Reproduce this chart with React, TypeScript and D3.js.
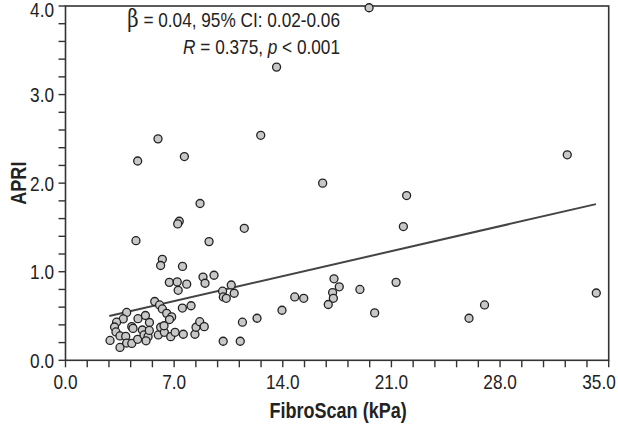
import React from "react";
import * as d3 from "d3";

const fibroscan = [
  19.56, 13.6, 12.58, 5.96, 4.65, 7.66, 32.33, 16.57, 21.98, 8.67,
  21.77, 7.33, 7.23, 11.52, 4.54, 9.25, 6.24, 6.13, 7.54, 6.69,
  7.2, 7.81, 7.26, 8.86, 8.99, 9.57, 10.68, 10.12, 10.17, 10.36,
  10.87, 5.75, 6.06, 6.24, 6.52, 6.84, 6.7, 7.53, 8.09, 3.94,
  3.72, 3.29, 3.16, 3.25, 3.51, 2.87, 3.51, 3.88, 3.94, 4.27,
  4.27, 4.35, 4.67, 5.15, 4.95, 4.65, 5.06, 5.32, 5.41, 5.4,
  5.98, 6.13, 6.37, 6.78, 7.06, 7.59, 8.34, 8.41, 8.65, 8.94,
  10.16, 11.26, 11.4, 12.34, 13.95, 14.77, 15.35, 17.3, 17.64, 17.21,
  17.26, 16.93, 18.97, 19.92, 21.3, 26.0, 27.0, 34.2, 5.19, 6.35,
];
const apri = [
  3.98, 3.31, 2.54, 2.5, 2.25, 2.3, 2.32, 2.0, 1.86, 1.77,
  1.51, 1.57, 1.54, 1.49, 1.35, 1.34, 1.14, 1.07, 1.06, 0.88,
  0.885, 0.86, 0.79, 0.94, 0.87, 0.96, 0.85, 0.78, 0.715, 0.7,
  0.757, 0.664, 0.625, 0.58, 0.53, 0.49, 0.46, 0.59, 0.616, 0.54,
  0.467, 0.43, 0.376, 0.32, 0.275, 0.224, 0.145, 0.27, 0.195, 0.19,
  0.38, 0.36, 0.47, 0.506, 0.342, 0.237, 0.286, 0.267, 0.427, 0.337,
  0.286, 0.373, 0.316, 0.267, 0.316, 0.294, 0.294, 0.373, 0.436, 0.38,
  0.215, 0.215, 0.43, 0.475, 0.565, 0.715, 0.7, 0.92, 0.83, 0.765,
  0.7, 0.63, 0.8, 0.535, 0.88, 0.475, 0.625, 0.76, 0.22, 0.39,
];

const xTickLabels = ["0.0", "7.0", "14.0", "21.0", "28.0", "35.0"];
const yTickLabels = ["0.0", "1.0", "2.0", "3.0", "4.0"];
const fitRange = [2.82, 34.18];
const fitIntercept = 0.386;
const fitSlope = 0.0403;

const W = 618;
const H = 424;
const left = 65.5;
const right = 608.7;
const top = 6;
const bottom = 360.3;

const font = "'Liberation Sans', Arial, sans-serif";
const axisColor = "#333";
const SX = 0.82;

function T({
  x,
  y,
  anchor = "start",
  size = 20,
  weight = "normal",
  rotate = 0,
  sx = SX,
  children,
}: {
  x: number;
  y: number;
  anchor?: string;
  size?: number;
  weight?: string;
  rotate?: number;
  sx?: number;
  children: React.ReactNode;
}) {
  return (
    <g transform={`translate(${x},${y}) rotate(${rotate}) scale(${sx},1)`}>
      <text
        x={0}
        y={0}
        textAnchor={anchor as any}
        fontFamily={font}
        fontSize={size}
        fontWeight={weight}
        fill="#222"
      >
        {children}
      </text>
    </g>
  );
}

export default function App() {
  const x = d3.scaleLinear().domain([0, 35]).range([left, right]);
  const y = d3.scaleLinear().domain([0, 4]).range([bottom, top]);

  const xMinor = d3.range(0, 35.0001, 1.4);
  const yMinor = d3.range(0, 4.0001, 0.2);

  const line = d3
    .line<number>()
    .x((d) => x(d))
    .y((d) => y(fitIntercept + fitSlope * d));

  return (
    <svg
      width={W}
      height={H}
      style={{ position: "absolute", left: 0, top: 0, background: "#fff" }}
    >
      <rect
        x={left}
        y={top}
        width={right - left}
        height={bottom - top}
        fill="none"
        stroke={axisColor}
        strokeWidth={1.6}
      />
      {xMinor.map((v, i) => (
        <line
          key={"xt" + i}
          x1={x(v)}
          x2={x(v)}
          y1={bottom}
          y2={bottom + 7}
          stroke={axisColor}
          strokeWidth={1.4}
        />
      ))}
      {yMinor.map((v, i) => (
        <line
          key={"yt" + i}
          x1={left - 7}
          x2={left}
          y1={y(v)}
          y2={y(v)}
          stroke={axisColor}
          strokeWidth={1.4}
        />
      ))}
      {xTickLabels.map((t) => (
        <T
          key={"xl" + t}
          x={Math.min(x(+t), W - 19)}
          y={389}
          anchor="middle"
          size={21}
        >
          {t}
        </T>
      ))}
      {yTickLabels.map((t) => (
        <T
          key={"yl" + t}
          x={54}
          y={Math.max(y(+t) + 7.5, 17)}
          anchor="end"
          size={21}
        >
          {t}
        </T>
      ))}
      <T x={(left + right) / 2 + 1} y={418} anchor="middle" size={22} weight="bold">
        FibroScan (kPa)
      </T>
      <T x={26} y={(top + bottom) / 2} anchor="middle" size={22} weight="bold" rotate={-90}>
        APRI
      </T>
      <path
        d={line(fitRange) || ""}
        fill="none"
        stroke="#444"
        strokeWidth={2}
      />
      {fibroscan.map((fx, i) => (
        <circle
          key={"p" + i}
          cx={x(fx)}
          cy={y(apri[i])}
          r={4}
          fill="#c8c8c8"
          stroke="#222"
          strokeWidth={1.3}
        />
      ))}
      <T x={340} y={27} anchor="end" size={21}>
        <tspan fontFamily="'DejaVu Serif', serif" fontSize={24}>β</tspan>
        <tspan> = 0.04, 95% CI: 0.02-0.06</tspan>
      </T>
      <T x={340} y={54} anchor="end" size={21}>
        <tspan fontStyle="italic">R</tspan>
        <tspan> = 0.375, </tspan>
        <tspan fontStyle="italic">p</tspan>
        <tspan> &lt; 0.001</tspan>
      </T>
    </svg>
  );
}
